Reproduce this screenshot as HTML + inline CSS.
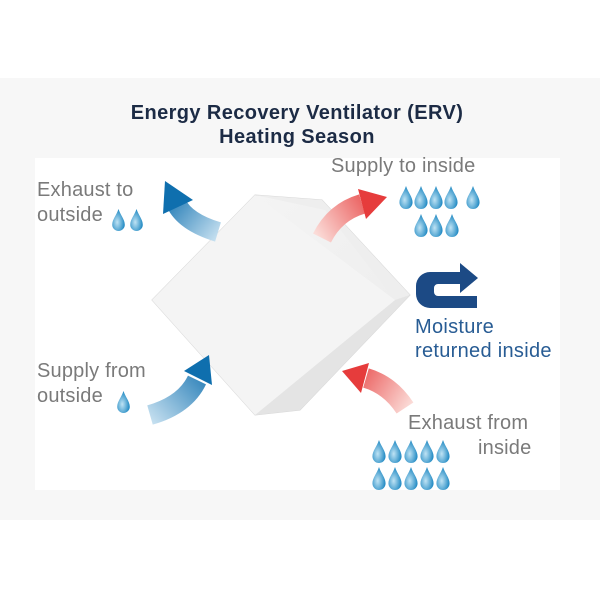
<!DOCTYPE html>
<html><head><style>
body{margin:0;width:600px;height:600px;background:#fff;position:relative;overflow:hidden;font-family:"Liberation Sans",sans-serif}
.band{position:absolute;left:0;top:78px;width:600px;height:442px;background:#f7f7f7}
.inner{position:absolute;left:35px;top:158px;width:525px;height:332px;background:#fff}
.t{position:absolute;white-space:nowrap}
.title{left:0;width:594px;text-align:center;font-weight:bold;font-size:20px;letter-spacing:0.4px;color:#1c2b45;line-height:24px}
.g{color:#7a7a7a;font-size:20px;letter-spacing:0.2px}
.b{color:#285c94;font-size:20px;letter-spacing:0.3px}
</style></head><body>
<div class="band"></div>
<div class="inner"></div>
<div class="t title" style="top:101px">Energy Recovery Ventilator (ERV)<br>Heating Season</div>
<svg width="600" height="600" style="position:absolute;left:0;top:0">
<defs>
<linearGradient id="g1" gradientUnits="userSpaceOnUse" x1="165" y1="190" x2="220" y2="235"><stop offset="0" stop-color="#0f6fae"/><stop offset="1" stop-color="#c6e0f0"/></linearGradient>
<linearGradient id="g2" gradientUnits="userSpaceOnUse" x1="210" y1="360" x2="148" y2="418"><stop offset="0" stop-color="#0f6fae"/><stop offset="1" stop-color="#c6e0f0"/></linearGradient>
<linearGradient id="g3" gradientUnits="userSpaceOnUse" x1="385" y1="198" x2="320" y2="240"><stop offset="0" stop-color="#e63c3c"/><stop offset="1" stop-color="#fbdcd8"/></linearGradient>
<linearGradient id="g4" gradientUnits="userSpaceOnUse" x1="342" y1="370" x2="408" y2="410"><stop offset="0" stop-color="#e63c3c"/><stop offset="1" stop-color="#fbdcd8"/></linearGradient>
<linearGradient id="cube" x1="0" y1="0" x2="1" y2="1"><stop offset="0" stop-color="#f6f6f6"/><stop offset="1" stop-color="#ebebeb"/></linearGradient>
<radialGradient id="dr" cx="0.4" cy="0.6" r="0.6"><stop offset="0" stop-color="#bfe3f4"/><stop offset="1" stop-color="#1e88c2"/></radialGradient>
<symbol id="d" viewBox="0 0 12 21"><path d="M6 0 C8 6 12 10 12 15 A6 6 0 0 1 0 15 C0 10 4 6 6 0Z" fill="url(#dr)"/></symbol>
</defs>
<!-- cube -->
<polygon points="152,300 255,195 322,200 410,295 300,410 255,415" fill="url(#cube)" stroke="#d8d8d8"/>
<polygon points="255,195 322,200 410,295 395,300 325,210" fill="#eeeeee"/>
<polygon points="410,295 300,410 255,415 395,300" fill="#e4e4e4"/>
<polygon points="152,300 255,195 395,300 255,415" fill="#f4f4f4"/>
<!-- arrows -->
<path d="M218,232 Q185,222 176,203" fill="none" stroke="url(#g1)" stroke-width="20"/>
<polygon points="163,214 193,200 165,181" fill="#0f6fae"/>
<path d="M150,415 Q185,405 197,380" fill="none" stroke="url(#g2)" stroke-width="20"/>
<polygon points="184,371 212,385 209,355" fill="#0f6fae"/>
<path d="M322,238 Q335,212 362,204" fill="none" stroke="url(#g3)" stroke-width="20"/>
<polygon points="358,189 366,219 387,197" fill="#e63c3c"/>
<path d="M405,408 Q390,385 366,378" fill="none" stroke="url(#g4)" stroke-width="20"/>
<polygon points="369,363 361,393 342,371" fill="#e63c3c"/>
<!-- uturn -->
<path d="M438,272 L460,272 L460,263 L478,278 L460,293 L460,284 L438,284 A4,4 0 0 0 434,288 L434,292 A4,4 0 0 0 438,296 L477,296 L477,308 L430,308 A14,14 0 0 1 416,294 L416,286 A14,14 0 0 1 430,272 Z" fill="#1c4a85"/>
<!-- drops -->
<use href="#d" x="112" y="209" width="13" height="22"/><use href="#d" x="130" y="209" width="13" height="22"/>
<use href="#d" x="399" y="186" width="14" height="23"/><use href="#d" x="414" y="186" width="14" height="23"/><use href="#d" x="429" y="186" width="14" height="23"/><use href="#d" x="444" y="186" width="14" height="23"/><use href="#d" x="466" y="186" width="14" height="23"/>
<use href="#d" x="414" y="214" width="14" height="23"/><use href="#d" x="429" y="214" width="14" height="23"/><use href="#d" x="445" y="214" width="14" height="23"/>
<use href="#d" x="117" y="391" width="13" height="22"/>
<use href="#d" x="372" y="440" width="14" height="23"/><use href="#d" x="388" y="440" width="14" height="23"/><use href="#d" x="404" y="440" width="14" height="23"/><use href="#d" x="420" y="440" width="14" height="23"/><use href="#d" x="436" y="440" width="14" height="23"/>
<use href="#d" x="372" y="467" width="14" height="23"/><use href="#d" x="388" y="467" width="14" height="23"/><use href="#d" x="404" y="467" width="14" height="23"/><use href="#d" x="420" y="467" width="14" height="23"/><use href="#d" x="436" y="467" width="14" height="23"/>
</svg>
<div class="t g" style="left:37px;top:179px">Exhaust to</div>
<div class="t g" style="left:37px;top:204px">outside</div>
<div class="t g" style="left:331px;top:155px">Supply to inside</div>
<div class="t b" style="left:415px;top:316px">Moisture</div>
<div class="t b" style="left:415px;top:340px">returned inside</div>
<div class="t g" style="left:37px;top:360px">Supply from</div>
<div class="t g" style="left:37px;top:385px">outside</div>
<div class="t g" style="left:408px;top:412px">Exhaust from</div>
<div class="t g" style="left:478px;top:437px">inside</div>
</body></html>
